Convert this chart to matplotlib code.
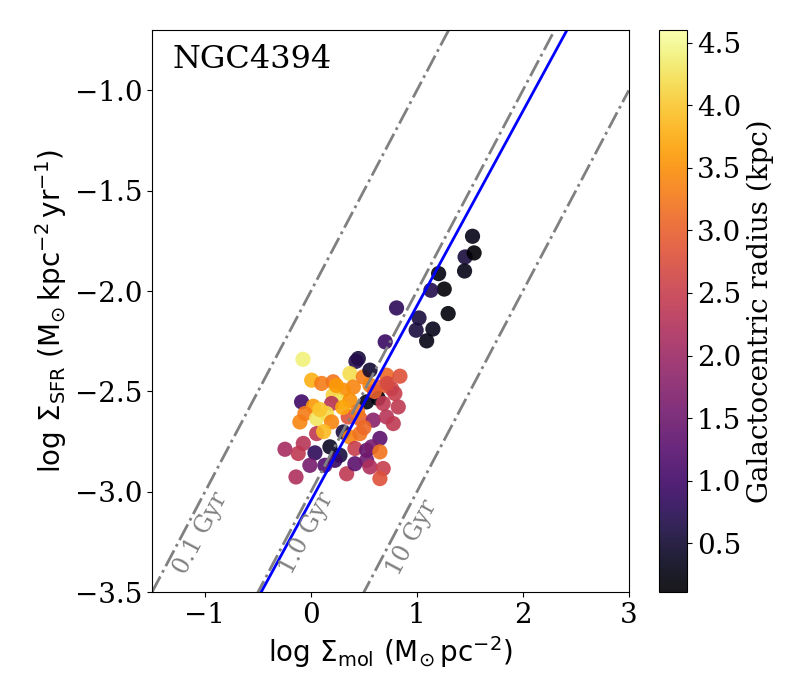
import numpy as np
import matplotlib
matplotlib.use("Agg")
from matplotlib import pyplot as plt

plt.rcParams["font.family"] = "DejaVu Serif"
plt.rcParams["mathtext.fontset"] = "dejavusans"

# log Sigma_mol (Msun pc^-2), log Sigma_SFR (Msun kpc^-2 yr^-1), radius (kpc)
log_mol = [
    1.525, 1.455, 1.54, 1.45, 1.205, 1.258, 1.132, 0.808, 1.295, 1.02,
    1.151, 0.993, 1.092, 0.701, 0.447, 0.425, -0.075, 0.368, 0.007, 0.101,
    0.21, 0.494, 0.557, 0.714, 0.84, 0.761, 0.651, 0.557, 0.40, 0.305,
    0.21, 0.274, -0.088, 0.022, 0.195, 0.368, 0.526, 0.635, 0.682, 0.824,
    0.792, -0.104, -0.057, 0.054, 0.148, 0.195, 0.352, 0.462, 0.588, 0.714,
    0.777, 0.054, 0.305, 0.368, 0.462, 0.651, -0.072, -0.245, -0.12, 0.038,
    0.179, 0.274, 0.226, 0.415, 0.526, 0.573, 0.651, -0.01, 0.132, 0.337,
    0.415, 0.526, 0.557, 0.682, 0.651, -0.141, 0.085, 0.24, 0.44, 0.60,
    0.30, 0.12, 0.50, 0.72,
]
log_sfr = [
    -1.727, -1.83, -1.81, -1.90, -1.913, -1.99, -1.996, -2.084, -2.112, -2.134,
    -2.189, -2.195, -2.248, -2.253, -2.336, -2.35, -2.340, -2.411, -2.444, -2.46,
    -2.452, -2.428, -2.394, -2.419, -2.424, -2.486, -2.478, -2.469, -2.478, -2.494,
    -2.519, -2.552, -2.552, -2.574, -2.56, -2.544, -2.552, -2.535, -2.56, -2.577,
    -2.51, -2.652, -2.61, -2.635, -2.61, -2.652, -2.627, -2.635, -2.643, -2.627,
    -2.66, -2.71, -2.702, -2.727, -2.71, -2.734, -2.759, -2.788, -2.809, -2.806,
    -2.776, -2.818, -2.843, -2.784, -2.793, -2.776, -2.801, -2.868, -2.868, -2.91,
    -2.86, -2.843, -2.876, -2.884, -2.934, -2.926, -2.59, -2.47, -2.60, -2.50,
    -2.58, -2.70, -2.68, -2.46,
]
radius = [
    0.30, 0.60, 0.10, 0.30, 0.25, 0.15, 0.70, 0.80, 0.20, 0.60,
    0.35, 0.60, 0.30, 0.90, 0.60, 0.70, 4.40, 4.20, 3.80, 3.30,
    3.20, 3.30, 0.50, 3.10, 2.80, 2.60, 2.90, 3.40, 3.40, 3.50,
    4.10, 4.30, 1.00, 3.60, 2.30, 3.50, 0.30, 0.20, 2.40, 2.40,
    2.50, 3.40, 3.30, 4.30, 4.20, 3.40, 2.80, 3.00, 1.80, 2.30,
    2.40, 2.40, 0.60, 3.40, 3.20, 1.30, 2.30, 2.10, 2.40, 0.80,
    0.40, 0.60, 0.90, 2.50, 1.40, 1.60, 3.20, 1.60, 1.20, 2.40,
    1.30, 1.50, 2.20, 2.50, 2.80, 2.20, 4.00, 3.60, 3.30, 3.00,
    3.70, 3.90, 3.10, 2.70,
]

depletion_times = [0.1, 1.0, 10.0]  # Gyr
depletion_labels = ["0.1 Gyr", "1.0 Gyr", "10 Gyr"]
label_x = [-1.04, -0.04, 0.95]
label_y = [-3.206, -3.206, -3.226]

fit_slope = 0.97
fit_intercept = -3.044

fig = plt.figure(figsize=(8, 7), dpi=100)
ax = fig.add_axes([0.19, 0.154, 0.596, 0.803])
cax = fig.add_axes([0.824, 0.154, 0.035, 0.803])

sc = ax.scatter(log_mol, log_sfr, c=radius, cmap="inferno", vmin=0.11, vmax=4.6,
                s=120, alpha=0.9, edgecolors="none")

xx = np.array([-1.5, 3.0])
for t in depletion_times:
    ax.plot(xx, xx - 3.0 - np.log10(t), color="gray", ls="-.", lw=2)
for lx, ly, lab in zip(label_x, label_y, depletion_labels):
    ax.text(lx, ly, lab, color="gray", fontsize=17, rotation=62, ha="center", va="center")

ax.plot(xx, fit_slope * xx + fit_intercept, color="blue", lw=2)

ax.set_xlim(-1.5, 3.0)
ax.set_ylim(-3.5, -0.7)
ax.set_xticks([-1, 0, 1, 2, 3])
ax.set_yticks([-3.5, -3.0, -2.5, -2.0, -1.5, -1.0])
ax.tick_params(labelsize=20)
ax.set_xlabel(r"$\rm log\ \Sigma_{mol}\ (M_{\odot}\,pc^{-2})$", fontsize=20)
ax.set_ylabel(r"$\rm log\ \Sigma_{SFR}\ (M_{\odot}\,kpc^{-2}\,yr^{-1})$", fontsize=20)
ax.text(0.042, 0.975, "NGC4394", transform=ax.transAxes, fontsize=23, va="top", ha="left")

cb = fig.colorbar(sc, cax=cax)
cb.set_ticks([0.5, 1.0, 1.5, 2.0, 2.5, 3.0, 3.5, 4.0, 4.5])
cb.ax.tick_params(labelsize=20)
cb.set_label("Galactocentric radius (kpc)", fontsize=20)

fig.savefig("out.png", dpi=100)
